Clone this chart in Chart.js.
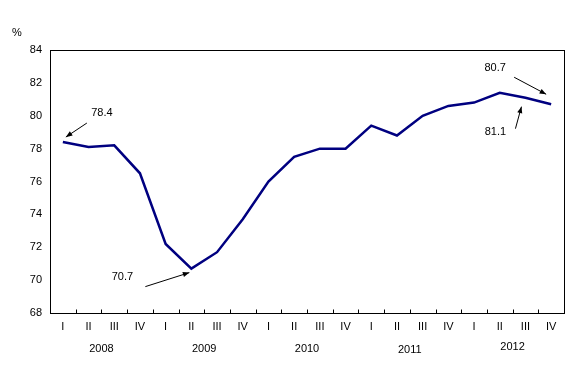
<!DOCTYPE html>
<html>
<head>
<meta charset="utf-8">
<script src="https://cdn.jsdelivr.net/npm/chart.js@4/dist/chart.umd.min.js"></script>
<style>
html,body{margin:0;padding:0;background:#fff;}
#wrap{width:588px;height:380px;}
</style>
</head>
<body>
<div id="wrap"><canvas id="c" width="588" height="380"></canvas></div>
<script>
const quarters = ["I","II","III","IV","I","II","III","IV","I","II","III","IV","I","II","III","IV","I","II","III","IV"];
const years = ["2008","2009","2010","2011","2012"];
const values = [78.4,78.1,78.2,76.5,72.2,70.7,71.7,73.7,76.0,77.5,78.0,78.0,79.4,78.8,80.0,80.6,80.8,81.4,81.1,80.7];
const yTicks = [68,70,72,74,76,78,80,82,84];
const annotatedIdx = [0,5,19,18];
const annotatedText = ["78.4","70.7","80.7","81.1"];

const FONT = "11px 'Liberation Sans', Arial, sans-serif";

const boxPlugin = {
  id: 'box',
  afterDraw(chart) {
    const {ctx, chartArea: a} = chart;
    const xs = chart.scales.x;
    ctx.save();
    ctx.strokeStyle = '#000';
    ctx.lineWidth = 1;
    const L = Math.round(a.left)+0.5, T = Math.round(a.top)+0.5, R = Math.round(a.right)+0.5, B = Math.round(a.bottom)+0.5;
    ctx.strokeRect(L, T, R-L, B-T);
    // inward tick marks between categories
    ctx.beginPath();
    for (let i = 0; i < quarters.length - 1; i++) {
      const x = Math.round((xs.getPixelForValue(i) + xs.getPixelForValue(i+1)) / 2) + 0.5;
      ctx.moveTo(x, B); ctx.lineTo(x, B - 4);
    }
    ctx.stroke();
    ctx.restore();
  }
};

const textPlugin = {
  id: 'texts',
  afterDraw(chart) {
    const {ctx} = chart;
    const xs = chart.scales.x, ys = chart.scales.y;
    ctx.save();
    ctx.font = FONT;
    ctx.fillStyle = '#000';
    ctx.textAlign = 'center';
    ctx.textBaseline = 'middle';
    ctx.fillText('%', 17, 33);
    const yOff = [349,349,349,350,347];
    years.forEach((yr, i) => {
      const x = (xs.getPixelForValue(i*4+1) + xs.getPixelForValue(i*4+2)) / 2;
      ctx.fillText(yr, x, yOff[i]);
    });
    const cfg = [
      {text:[39,-29], tail:[24,-19], tip:[3,-5]},
      {text:[-69,8], tail:[-46,18], tip:[-2,4]},
      {text:[-56,-36], tail:[-37,-27], tip:[-5,-10]},
      {text:[-30,34], tail:[-10,31], tip:[-4,9]}
    ];
    annotatedIdx.forEach((idx, k) => {
      const px = xs.getPixelForValue(idx), py = ys.getPixelForValue(values[idx]);
      const c = cfg[k];
      ctx.fillText(annotatedText[k], px + c.text[0], py + c.text[1]);
      const x1 = px + c.tail[0], y1 = py + c.tail[1];
      const x2 = px + c.tip[0], y2 = py + c.tip[1];
      ctx.strokeStyle = '#000';
      ctx.lineWidth = 1;
      ctx.beginPath(); ctx.moveTo(x1,y1); ctx.lineTo(x2,y2); ctx.stroke();
      const ang = Math.atan2(y2-y1, x2-x1), L = 7, W = 0.38;
      ctx.beginPath();
      ctx.moveTo(x2,y2);
      ctx.lineTo(x2 - L*Math.cos(ang-W), y2 - L*Math.sin(ang-W));
      ctx.lineTo(x2 - L*Math.cos(ang+W), y2 - L*Math.sin(ang+W));
      ctx.closePath(); ctx.fill();
    });
    ctx.restore();
  }
};

new Chart(document.getElementById('c'), {
  type: 'line',
  data: {
    labels: quarters,
    datasets: [{
      data: values,
      borderColor: '#000080',
      borderWidth: 2.5,
      pointRadius: 0,
      tension: 0,
      fill: false
    }]
  },
  options: {
    responsive: false,
    animation: false,
    devicePixelRatio: 1,
    layout: {padding: {left: 0, right: 24, top: 50, bottom: 0}},
    plugins: {legend: {display: false}, tooltip: {enabled: false}},
    scales: {
      x: {
        type: 'category',
        offset: true,
        grid: {offset: true, display: false, drawOnChartArea: false, drawTicks: false},
        border: {display: true, color: '#000', width: 1},
        ticks: {color: '#000', font: {family: "'Liberation Sans', Arial, sans-serif", size: 11}, padding: 7, maxRotation: 0, autoSkip: false},
        afterFit(s) { s.height = 67; }
      },
      y: {
        min: 68, max: 84,
        afterBuildTicks(s) { s.ticks = yTicks.map(v => ({value: v})); },
        grid: {display: false, drawTicks: false},
        border: {display: true, color: '#000', width: 1},
        ticks: {color: '#000', font: {family: "'Liberation Sans', Arial, sans-serif", size: 11}, padding: 8},
        afterFit(s) { s.width = 50; }
      }
    }
  },
  plugins: [boxPlugin, textPlugin]
});
</script>
</body>
</html>
